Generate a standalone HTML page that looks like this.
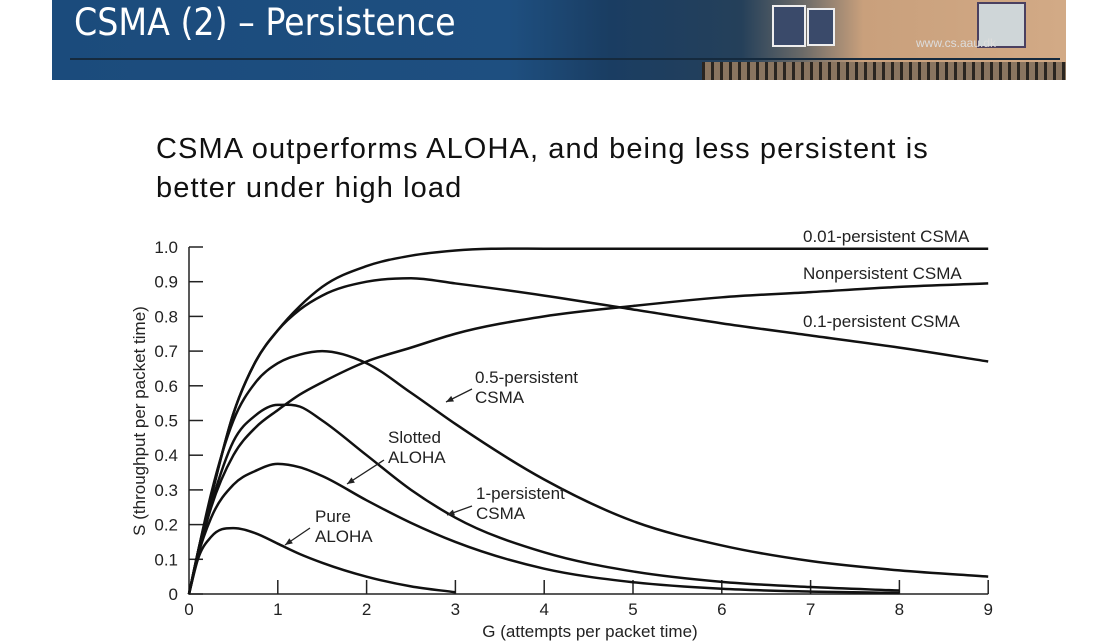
<!DOCTYPE html>
<html><head><meta charset="utf-8"><style>
body{margin:0;width:1114px;height:642px;background:#fff;overflow:hidden;font-family:"Liberation Sans",sans-serif}
#banner{position:absolute;left:52px;top:0;width:1014px;height:80px;background:linear-gradient(90deg,#1b4b7c 0%,#1e4f80 45%,#1a3d62 55%,#25405a 68%,#6a6a68 74%,#c9a07c 80%,#d2aa86 100%)}
#title{position:absolute;left:74px;top:1px;color:#fff;font-size:37px;font-family:"DejaVu Sans Condensed","Liberation Sans",sans-serif}
#sub{position:absolute;left:156px;top:130px;font-size:29px;line-height:39px;color:#111;font-family:"Liberation Sans",sans-serif;letter-spacing:1.1px}
</style></head><body>
<div id="banner">
<div style="position:absolute;left:18px;top:58px;width:990px;height:2px;background:#152a3e"></div>
<div style="position:absolute;left:650px;top:62px;width:364px;height:18px;background:repeating-linear-gradient(90deg,#2a2520 0 3px,#8a7560 3px 9px)"></div>
<div style="position:absolute;left:720px;top:5px;width:30px;height:38px;background:#3a4a6a;border:2px solid #eee"></div>
<div style="position:absolute;left:755px;top:8px;width:24px;height:34px;background:#3a4a6a;border:2px solid #eee"></div>
<div style="position:absolute;left:925px;top:2px;width:45px;height:42px;background:#cfd6d8;border:2px solid #4a4060"></div>
<div style="position:absolute;left:864px;top:36px;color:#ddd;font-size:12px">www.cs.aau.dk</div>
</div>
<div id="title">CSMA (2) – Persistence</div>
<div id="sub">CSMA outperforms ALOHA, and being less persistent is<br>better under high load</div>
<svg id="chart" width="1114" height="642" style="position:absolute;left:0;top:0"></svg>
<script>
const G = [0,0.1,0.25,0.5,0.75,1,1.25,1.5,2,2.5,3,4,5,6,7,8,9];
const s001 = [0,0.12,0.28,0.52,0.67,0.76,0.83,0.885,0.945,0.975,0.99,0.995,0.995,0.995,0.995,0.995,0.995];
const sNon = [0,0.11,0.25,0.40,0.48,0.53,0.575,0.61,0.67,0.71,0.75,0.80,0.83,0.855,0.87,0.885,0.895];
const s01 = [0,0.12,0.28,0.52,0.67,0.76,0.82,0.86,0.90,0.91,0.895,0.86,0.82,0.78,0.745,0.71,0.67];
const s05 = [0,0.12,0.29,0.50,0.61,0.665,0.69,0.70,0.665,0.58,0.49,0.33,0.21,0.14,0.095,0.068,0.05];
const s1 = [0,0.12,0.26,0.44,0.515,0.545,0.54,0.50,0.40,0.30,0.22,0.12,0.065,0.035,0.02,0.01,null];
const sSlot = [0,0.11,0.22,0.315,0.355,0.375,0.365,0.34,0.27,0.205,0.15,0.073,0.034,0.015,0.007,0.003,null];
const sPure = [0,0.1,0.165,0.19,0.175,0.145,0.115,0.09,0.05,0.022,0.005,null,null,null,null,null,null];
const xTicks = [0,1,2,3,4,5,6,7,8,9];
const yTicks = [0,0.1,0.2,0.3,0.4,0.5,0.6,0.7,0.8,0.9,1.0];
const yLabels = ["0","0.1","0.2","0.3","0.4","0.5","0.6","0.7","0.8","0.9","1.0"];
const NS="http://www.w3.org/2000/svg";
const svg=document.getElementById('chart');
const X=g=>189+88.8*g, Y=v=>594-347*v;
function mk(t,a,p){const e=document.createElementNS(NS,t);for(const k in a)e.setAttribute(k,a[k]);(p||svg).appendChild(e);return e;}
let ax=mk('path',{d:`M${X(0)} ${Y(1)} V${Y(0)} H${X(9)}`,stroke:'#222','stroke-width':1.5,fill:'none'});


yTicks.forEach((v,i)=>{
 const l=mk('line',{x1:X(0),x2:X(0)+14,y1:Y(v),y2:Y(v),stroke:'#222','stroke-width':1.5});
 
 
 const t=mk('text',{x:X(0)-11,y:Y(v)+6,'text-anchor':'end','font-size':17,fill:'#222'});
 t.textContent=yLabels[i];
 
 
});
xTicks.forEach(g=>{
 if(g>0){const l=mk('line',{x1:X(g),x2:X(g),y1:Y(0),y2:Y(0)-14,stroke:'#222','stroke-width':1.5});
 
 }
 const t=mk('text',{x:X(g),y:Y(0)+21,'text-anchor':'middle','font-size':17,fill:'#222'});
 t.textContent=g;
 
 
});
let xt=mk('text',{x:590,y:637,'text-anchor':'middle','font-size':17,fill:'#222'});xt.textContent='G (attempts per packet time)';


let yt=mk('text',{x:0,y:0,'text-anchor':'middle','font-size':17,fill:'#222',transform:'translate(145,421) rotate(-90)'});yt.textContent='S (throughput per packet time)';


function curve(vals,name){
 const pts=[];G.forEach((g,i)=>{if(vals[i]!=null)pts.push([X(g),Y(vals[i])]);});
 const n=pts.length,dl=[],m=[];
 for(let i=0;i<n-1;i++)dl.push((pts[i+1][1]-pts[i][1])/(pts[i+1][0]-pts[i][0]));
 m[0]=dl[0];m[n-1]=dl[n-2];
 for(let i=1;i<n-1;i++){if(dl[i-1]*dl[i]<=0)m[i]=0;else{const h0=pts[i][0]-pts[i-1][0],h1=pts[i+1][0]-pts[i][0];m[i]=(dl[i-1]*h1+dl[i]*h0)/(h0+h1);}}
 let d=`M${pts[0][0]} ${pts[0][1]}`;
 for(let i=0;i<n-1;i++){const h=(pts[i+1][0]-pts[i][0])/3;
  d+=` C${pts[i][0]+h} ${pts[i][1]+m[i]*h} ${pts[i+1][0]-h} ${pts[i+1][1]-m[i+1]*h} ${pts[i+1][0]} ${pts[i+1][1]}`;}
 const p=mk('path',{d,stroke:'#111','stroke-width':2.5,fill:'none','stroke-linejoin':'round'});
 
 
}
curve(s001,'curve-001-persistent');curve(sNon,'curve-nonpersistent');curve(s01,'curve-01-persistent');
curve(s05,'curve-05-persistent');curve(s1,'curve-1-persistent');curve(sSlot,'curve-slotted-aloha');curve(sPure,'curve-pure-aloha');
function label(lines,x,y,name){lines.forEach((s,i)=>{const t=mk('text',{x,y:y+i*20,'font-size':17,fill:'#222'});t.textContent=s;
 
 });}
label(['0.01-persistent CSMA'],803,242,'label-001-persistent');
label(['Nonpersistent CSMA'],803,279,'label-nonpersistent');
label(['0.1-persistent CSMA'],803,327,'label-01-persistent');
label(['0.5-persistent','CSMA'],475,383,'label-05-persistent');
label(['Slotted','ALOHA'],388,443,'label-slotted-aloha');
label(['1-persistent','CSMA'],476,499,'label-1-persistent');
label(['Pure','ALOHA'],315,522,'label-pure-aloha');
function arrow(x1,y1,x2,y2){const a=mk('line',{x1,y1,x2,y2,stroke:'#222','stroke-width':1.3});
 
 
 const ang=Math.atan2(y2-y1,x2-x1),L=8,w=0.4;
 const h=mk('polygon',{points:`${x2},${y2} ${x2-L*Math.cos(ang-w)},${y2-L*Math.sin(ang-w)} ${x2-L*Math.cos(ang+w)},${y2-L*Math.sin(ang+w)}`,fill:'#222'});
 
 }
arrow(472,389,446,402);arrow(384,460,347,484);arrow(472,506,447,515);arrow(310,528,285,545);
</script>
</body></html>
